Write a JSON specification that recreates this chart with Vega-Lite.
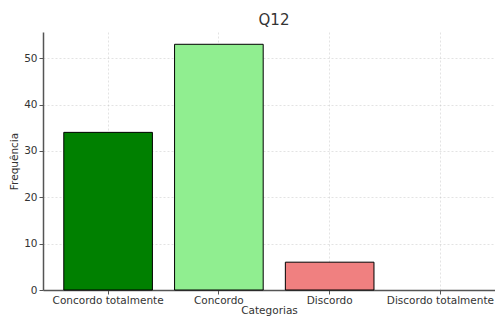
{
  "$schema": "https://vega.github.io/schema/vega-lite/v6.json",
  "autosize": {"type": "none"},
  "padding": {"left": 43, "top": 32, "right": 0, "bottom": 26},
  "width": 452,
  "height": 258,
  "background": "white",
  "title": {"text": "Q12", "font": "DejaVu Sans", "fontSize": 15, "fontWeight": "normal", "color": "#333333", "anchor": "middle", "dx": 5, "offset": 4},
  "data": {"values": [
    {"categoria": "Concordo totalmente", "frequencia": 34},
    {"categoria": "Concordo", "frequencia": 53},
    {"categoria": "Discordo", "frequencia": 6},
    {"categoria": "Discordo totalmente", "frequencia": 0}
  ]},
  "config": {
    "view": {"stroke": null},
    "axis": {
      "labelFont": "DejaVu Sans", "titleFont": "DejaVu Sans",
      "labelFontSize": 10.5, "titleFontSize": 10.5, "titleFontWeight": "normal",
      "labelColor": "#333333", "titleColor": "#333333",
      "domainColor": "#555555", "domainWidth": 1.5,
      "tickColor": "#555555", "tickSize": 4, "tickWidth": 1,
      "gridColor": "#bbbbbb", "gridDash": [2, 2], "gridWidth": 0.6, "gridOpacity": 0.7,
      "zindex": 1
    }
  },
  "mark": {"type": "bar", "stroke": "black", "strokeWidth": 1},
  "encoding": {
    "x": {
      "field": "categoria", "type": "nominal",
      "sort": ["Concordo totalmente", "Concordo", "Discordo", "Discordo totalmente"],
      "scale": {"paddingInner": 0.2, "paddingOuter": 0.14, "align": 0.67},
      "axis": {"title": "Categorias", "labelAngle": 0, "grid": true, "bandPosition": 0.5, "labelPadding": 1, "titlePadding": 0}
    },
    "y": {
      "field": "frequencia", "type": "quantitative",
      "scale": {"domain": [0, 55.65], "nice": false},
      "axis": {"title": "Frequência", "values": [0, 10, 20, 30, 40, 50], "grid": true, "labelPadding": 2, "titlePadding": 4}
    },
    "strokeOpacity": {
      "condition": {"test": "datum.frequencia == 0", "value": 0},
      "value": 1
    },
    "color": {
      "field": "categoria", "type": "nominal", "legend": null,
      "scale": {"domain": ["Concordo totalmente", "Concordo", "Discordo", "Discordo totalmente"], "range": ["#008000", "#90EE90", "#F08080", "#d3d3d3"]}
    }
  }
}
